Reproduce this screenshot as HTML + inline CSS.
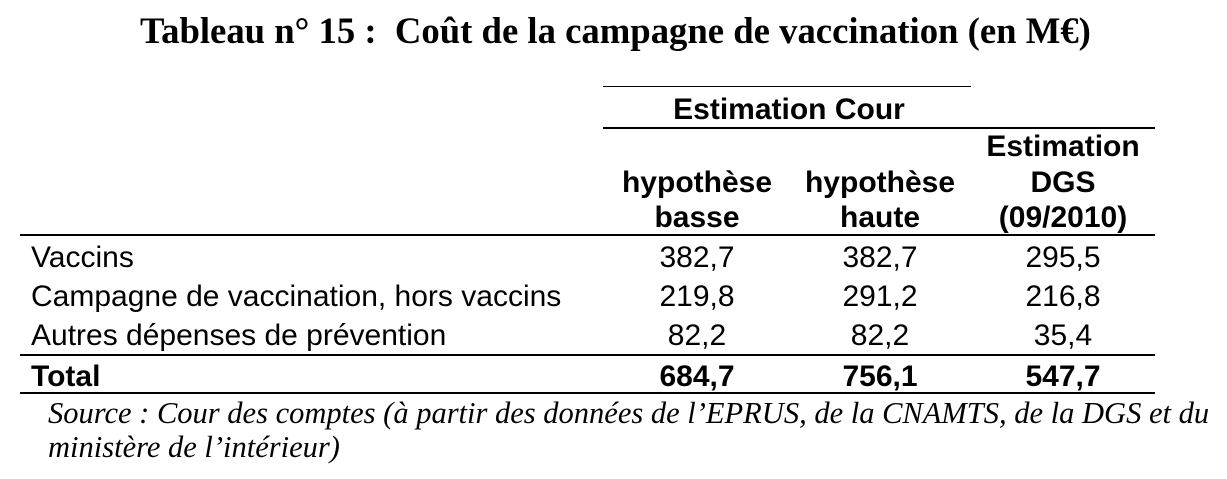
<!DOCTYPE html>
<html><head><meta charset="utf-8"><style>
body{margin:0;width:1227px;height:479px;background:#fff;position:relative;overflow:hidden;color:#000}
.t{position:absolute;white-space:nowrap;line-height:1}
.s{font-family:"Liberation Sans",sans-serif;font-size:30px}
.b{font-weight:bold}
.c{text-align:center;transform:translateX(-50%)}
.l{position:absolute;background:#000;height:2px}
.serif{font-family:"Liberation Serif",serif}
</style></head><body>
<div class="t serif b" style="left:140px;top:13px;font-size:36.7px">Tableau n° 15 :&nbsp; Coût de la campagne de vaccination (en M€)</div>
<div class="l" style="left:603px;top:86px;width:368px;height:1px"></div>
<div class="t s b c" style="left:789px;top:95px">Estimation Cour</div>
<div class="l" style="left:603px;top:127px;width:552px"></div>
<div class="t s b c" style="left:1063px;top:132px">Estimation</div>
<div class="t s b c" style="left:1063px;top:168px">DGS</div>
<div class="t s b c" style="left:1063px;top:203px">(09/2010)</div>
<div class="t s b c" style="left:697px;top:168px">hypothèse</div>
<div class="t s b c" style="left:697px;top:203px">basse</div>
<div class="t s b c" style="left:880px;top:168px">hypothèse</div>
<div class="t s b c" style="left:880px;top:203px">haute</div>
<div class="l" style="left:20px;top:234px;width:1135px"></div>
<div class="t s" style="left:31px;top:243px">Vaccins</div>
<div class="t s c" style="left:697px;top:243px">382,7</div>
<div class="t s c" style="left:880px;top:243px">382,7</div>
<div class="t s c" style="left:1063px;top:243px">295,5</div>
<div class="t s" style="left:31px;top:282px">Campagne de vaccination, hors vaccins</div>
<div class="t s c" style="left:697px;top:282px">219,8</div>
<div class="t s c" style="left:880px;top:282px">291,2</div>
<div class="t s c" style="left:1063px;top:282px">216,8</div>
<div class="t s" style="left:31px;top:321px">Autres dépenses de prévention</div>
<div class="t s c" style="left:697px;top:321px">82,2</div>
<div class="t s c" style="left:880px;top:321px">82,2</div>
<div class="t s c" style="left:1063px;top:321px">35,4</div>
<div class="l" style="left:20px;top:354px;width:1135px"></div>
<div class="t s b" style="left:31px;top:362px">Total</div>
<div class="t s b c" style="left:697px;top:362px">684,7</div>
<div class="t s b c" style="left:880px;top:362px">756,1</div>
<div class="t s b c" style="left:1063px;top:362px">547,7</div>
<div class="l" style="left:20px;top:392px;width:1135px"></div>
<div class="t serif" style="left:48px;top:398px;font-size:30.5px;font-style:italic">Source : Cour des comptes (à partir des données de l’EPRUS, de la CNAMTS, de la DGS et du</div>
<div class="t serif" style="left:48px;top:432px;font-size:30.5px;font-style:italic">ministère de l’intérieur)</div>
</body></html>
